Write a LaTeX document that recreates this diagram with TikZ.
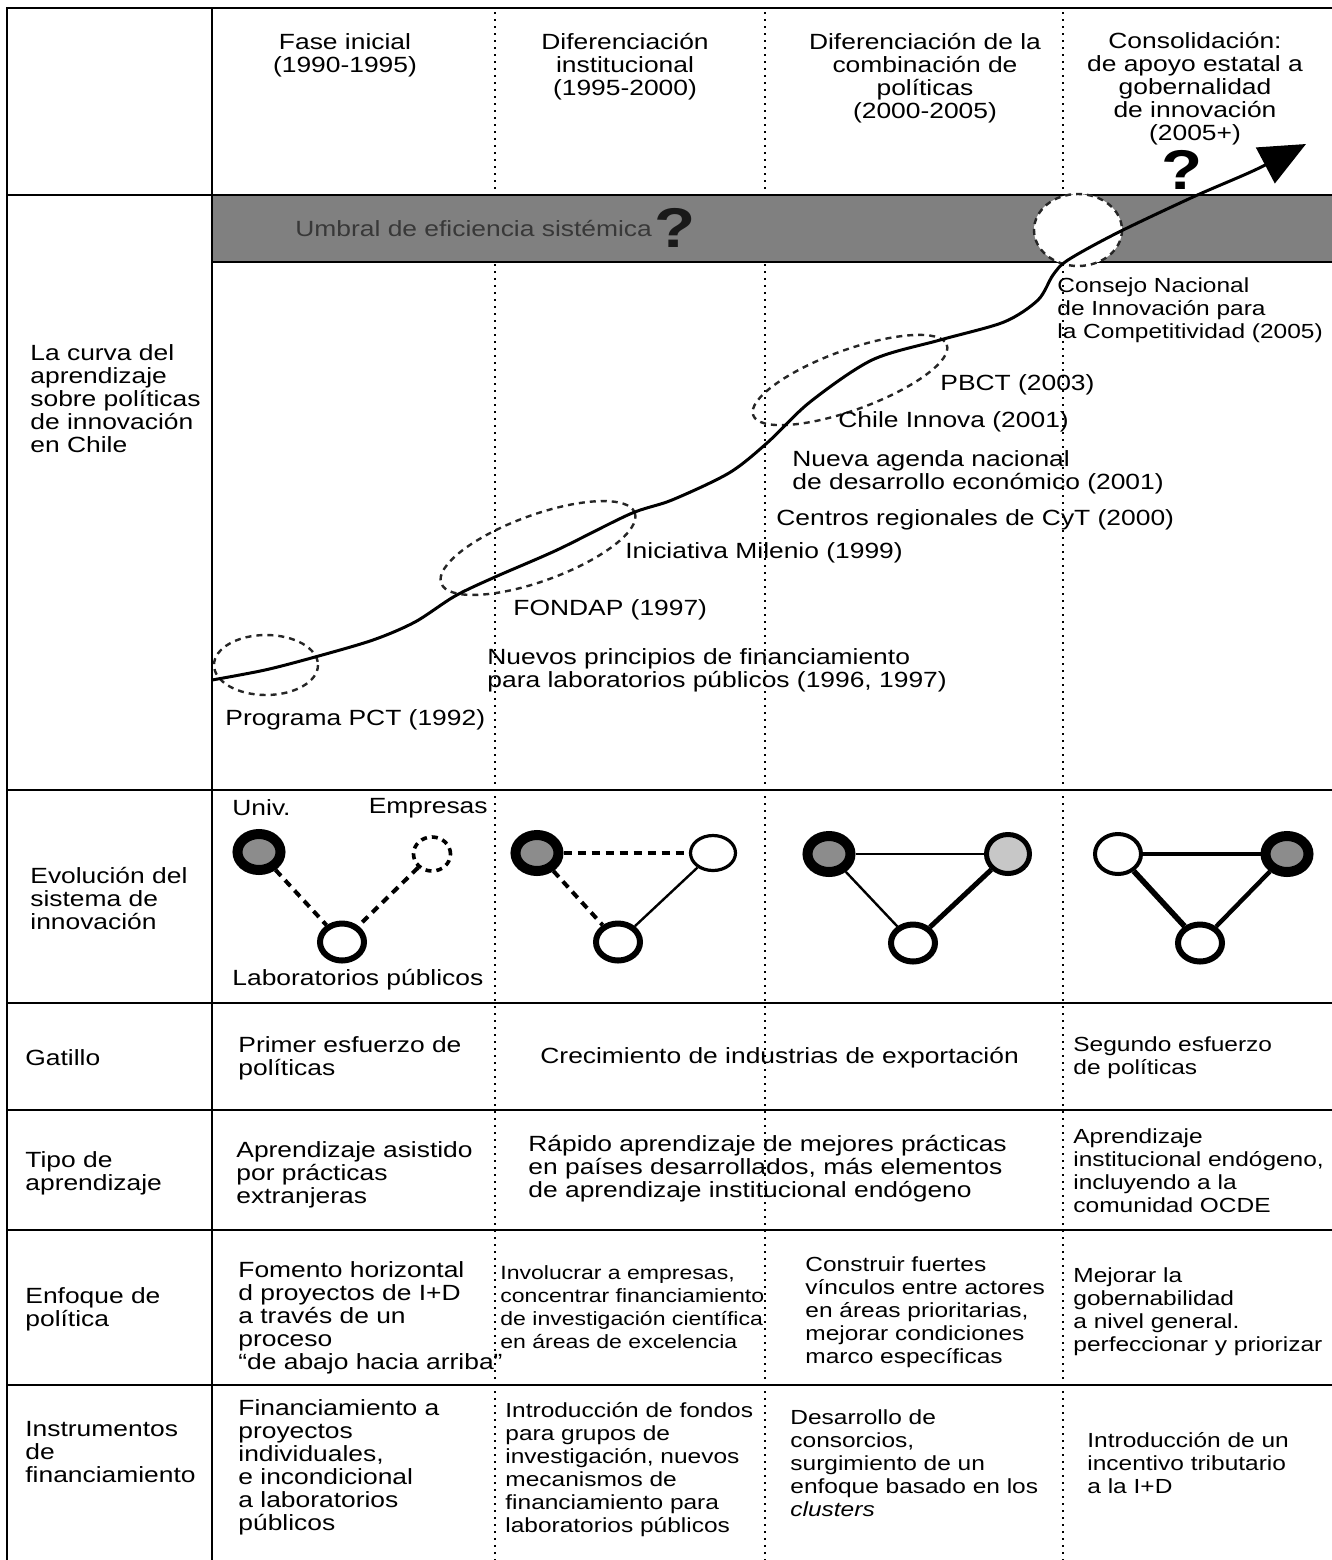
\documentclass[tikz,border=0pt]{standalone}
\usepackage{fontspec}
\setmainfont{Liberation Sans}[FakeStretch=1.2]
\usetikzlibrary{arrows.meta,shapes.geometric}

\begin{document}
\begin{tikzpicture}[x=0.5pt,y=-0.5pt,
	txt/.style={font=\fontsize{11}{11.5}\selectfont,align=left,inner sep=0pt,anchor=west},
	hd/.style={font=\fontsize{11}{11.5}\selectfont,align=center,inner sep=0pt},
	sm/.style={font=\fontsize{10.2}{11.5}\selectfont},
	xs/.style={font=\fontsize{9.6}{11.5}\selectfont},
	qmark/.style={font=\fontsize{28}{28}\selectfont\bfseries,inner sep=0pt},
	rule/.style={line width=1.3pt},
	dots/.style={line width=1.1pt,dash pattern=on 0.9pt off 2.6pt},
	loop/.style={draw=black!85,line width=1.2pt,dash pattern=on 3pt off 2.5pt},
	univ/.style={ellipse,draw=black,fill=black!45,line width=5pt,minimum width=21.5pt,minimum height=18pt,inner sep=0pt},
	gov/.style={ellipse,draw=black,fill=black!22,line width=2.5pt,minimum width=21.5pt,minimum height=19.5pt,inner sep=0pt},
	lab/.style={ellipse,draw=black,fill=white,line width=3pt,minimum width=22pt,minimum height=18.5pt,inner sep=0pt},
	emp/.style={ellipse,draw=black,fill=white,line width=1.6pt,minimum width=22.5pt,minimum height=17.5pt,inner sep=0pt},
	weak/.style={line width=2pt,dash pattern=on 4pt off 3pt}]
	\useasboundingbox (0,0) rectangle (1332,1560);
	
	\foreach \x in {495,765,1063} \draw[dots] (\x,12) -- (\x,1560);
	\fill[black!50] (212,196) rectangle (1332,262);
	\draw[rule] (7,1560) -- (7,8) -- (1332,8);
	\draw[rule] (212,8) -- (212,1560);
	\foreach \y in {195,790,1003,1110,1230,1385} \draw[rule] (7,\y) -- (1332,\y);
	\draw[rule] (212,262) -- (1332,262);
	
	\node[hd] (fase1) at (345,55) {Fase inicial\\(1990-1995)};
	\node[hd] (fase2) at (625,67) {Diferenciación\\institucional\\(1995-2000)};
	\node[hd] (fase3) at (925,78) {Diferenciación de la\\combinación de\\políticas\\(2000-2005)};
	\node[hd] (fase4) at (1195,89) {Consolidación:\\de apoyo estatal a\\gobernalidad\\de innovación\\(2005+)};
	
	\node[txt,text=black!78] (umbral) at (295,228) {Umbral de eficiencia sistémica};
	\node[qmark,anchor=west,text=black!90] (q1) at ([xshift=1pt]umbral.east) {?};
	\draw[loop,fill=white] (1078,230) ellipse [x radius=44,y radius=36];
	
	\draw[loop] (266,665) ellipse [x radius=52,y radius=30];
	\draw[loop,rotate around={20:(538,548)}] (538,548) ellipse [x radius=103,y radius=33];
	\draw[loop,rotate around={20:(850,380)}] (850,380) ellipse [x radius=103,y radius=30];
	
	\draw[line width=1.5pt,-{Triangle[length=23pt,width=20pt]}] plot[smooth,tension=0.5] coordinates {
		(212,680) (265,670) (315,657) (373,640) (415,622) (455,596) (495,577)
		(557,550) (630,514) (672,500) (729,473) (767,443) (810,402) (872,360)
		(940,340) (1004,322) (1038,300) (1053,275) (1068,260) (1117,233)
		(1193,197) (1255,170) (1306,144)};
	\node[qmark] (q2) at (1182,170) {?};
	
	\node[txt] (pct) at (225,720) {Programa PCT (1992)};
	\node[txt] (nuevos) at (487,670) {Nuevos principios de financiamiento\\para laboratorios públicos (1996, 1997)};
	\node[txt] (fondap) at (513,610) {FONDAP (1997)};
	\node[txt] (milenio) at (625,553) {Iniciativa Milenio (1999)};
	\node[txt] (centros) at (776,520) {Centros regionales de CyT (2000)};
	\node[txt] (agenda) at (792,472) {Nueva agenda nacional\\de desarrollo económico (2001)};
	\node[txt] (innova) at (838,422) {Chile Innova (2001)};
	\node[txt] (pbct) at (940,385) {PBCT (2003)};
	\node[txt,sm] (consejo) at (1057,310) {Consejo Nacional\\de Innovación para\\la Competitividad (2005)};
	
	\node[txt] (rowcurva) at (30,399) {La curva del\\aprendizaje\\sobre políticas\\de innovación\\en Chile};
	\node[txt] (rowevol) at (30,898) {Evolución del\\sistema de\\innovación};
	\node[txt] (rowgat) at (25,1058) {Gatillo};
	\node[txt] (rowtipo) at (25,1173) {Tipo de\\aprendizaje};
	\node[txt] (rowenf) at (25,1309) {Enfoque de\\política};
	\node[txt] (rowinst) at (25,1452) {Instrumentos\\de\\financiamiento};
	
	\node[txt] (univlbl) at (232,808) {Univ.};
	\node[txt,anchor=east] (emplbl) at (488,808) {Empresas};
	\node[txt] (lablbl) at (232,980) {Laboratorios públicos};
	
	\node[univ] (u1) at (259,852) {};
	\node[emp,line width=1.8pt,dash pattern=on 3pt off 2.5pt,minimum width=18.5pt,minimum height=17pt] (e1) at (432,854) {};
	\node[lab] (l1) at (342,942) {};
	\draw[weak] (u1) -- (l1);
	\draw[weak] (e1) -- (l1);
	
	\node[univ] (u2) at (537,853) {};
	\node[emp] (e2) at (713,853) {};
	\node[lab] (l2) at (618,942) {};
	\draw[weak] (u2) -- (e2);
	\draw[weak] (u2) -- (l2);
	\draw[line width=1.2pt] (e2) -- (l2);
	
	\node[univ] (u3) at (829,854) {};
	\node[gov] (g3) at (1008,854) {};
	\node[lab] (l3) at (913,943) {};
	\draw[line width=1pt] (u3) -- (g3);
	\draw[line width=1.2pt] (u3) -- (l3);
	\draw[line width=2.5pt] (g3) -- (l3);
	
	\node[emp,line width=2pt,minimum width=23pt,minimum height=20pt] (e4) at (1118,854) {};
	\node[univ] (u4) at (1287,854) {};
	\node[lab] (l4) at (1200,943) {};
	\draw[line width=1.8pt] (e4) -- (u4);
	\draw[line width=2.8pt] (e4) -- (l4);
	\draw[line width=2.2pt] (u4) -- (l4);
	
	\node[txt] (gat1) at (238,1058) {Primer esfuerzo de\\políticas};
	\node[txt] (gat2) at (540,1058) {Crecimiento de industrias de exportación};
	\node[txt,sm] (gat3) at (1073,1058) {Segundo esfuerzo\\de políticas};
	
	\node[txt] (tipo1) at (236,1175) {Aprendizaje asistido\\por prácticas\\extranjeras};
	\node[txt] (tipo2) at (528,1169) {Rápido aprendizaje de mejores prácticas\\en países desarrollados, más elementos\\de aprendizaje institucional endógeno};
	\node[txt,sm] (tipo3) at (1073,1171) {Aprendizaje\\institucional endógeno,\\incluyendo a la\\comunidad OCDE};
	
	\node[txt] (enf1) at (238,1318) {Fomento horizontal\\d proyectos de I+D\\a través de un\\proceso\\“de abajo hacia arriba”};
	\node[txt,xs] (enf2) at (500,1307) {Involucrar a empresas,\\concentrar financiamiento\\de investigación científica\\en áreas de excelencia};
	\node[txt,sm] (enf3) at (805,1312) {Construir fuertes\\vínculos entre actores\\en áreas prioritarias,\\mejorar condiciones\\marco específicas};
	\node[txt,sm] (enf4) at (1073,1312) {Mejorar la\\gobernabilidad\\a nivel general.\\perfeccionar y priorizar};
	
	\node[txt] (inst1) at (238,1467) {Financiamiento a\\proyectos\\individuales,\\e incondicional\\a laboratorios\\públicos};
	\node[txt,sm] (inst2) at (505,1470) {Introducción de fondos\\para grupos de\\investigación, nuevos\\mecanismos de\\financiamiento para\\laboratorios públicos};
	\node[txt,sm] (inst3) at (790,1463) {Desarrollo de\\consorcios,\\surgimiento de un\\enfoque basado en los\\\textit{clusters}};
	\node[txt,sm] (inst4) at (1087,1463) {Introducción de un\\incentivo tributario\\a la I+D};
\end{tikzpicture}
\end{document}
